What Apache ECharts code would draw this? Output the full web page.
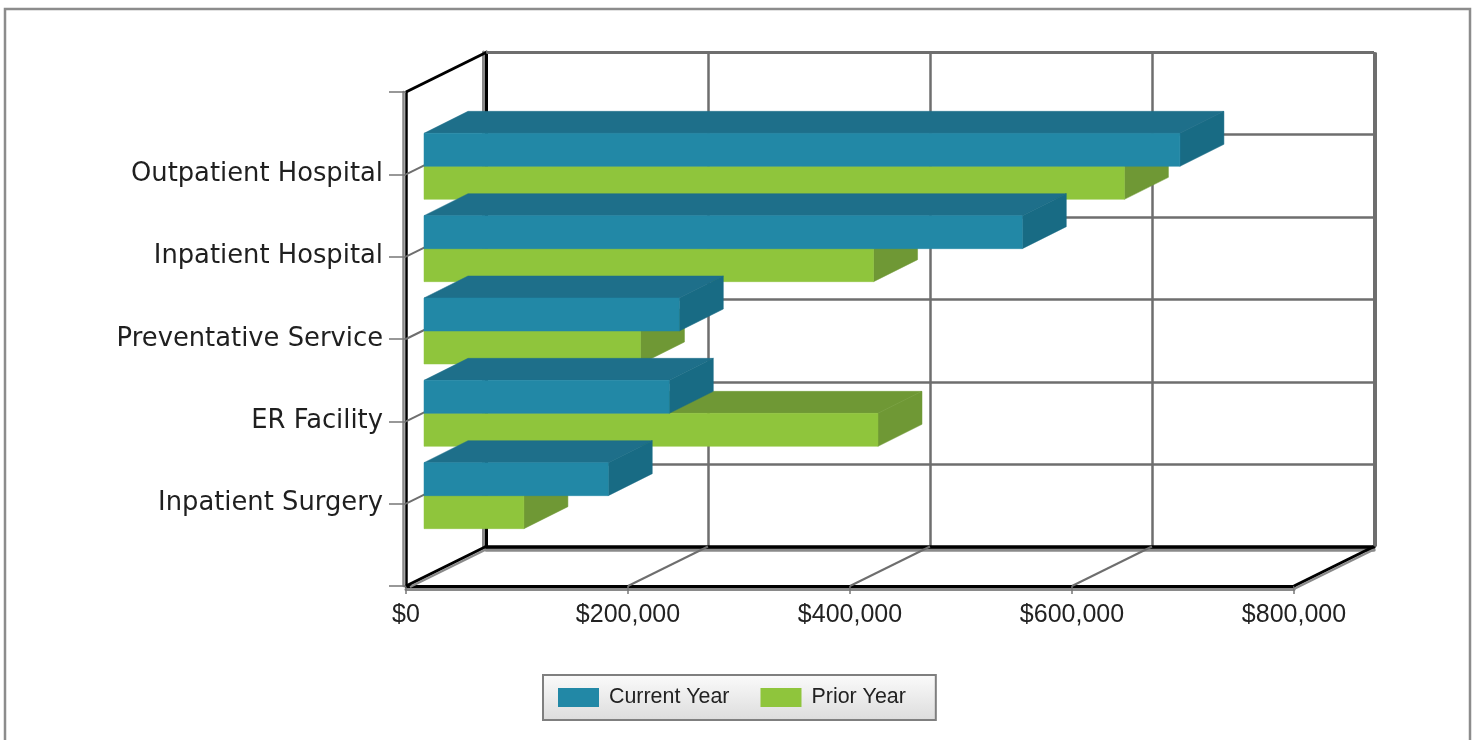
<!DOCTYPE html>
<html>
<head>
<meta charset="utf-8">
<style>html,body{margin:0;padding:0;background:#fff}#c{width:1476px;height:740px}</style>
<script src="https://cdn.jsdelivr.net/npm/echarts@6/dist/echarts.min.js"></script>
</head>
<body>
<div id="c"></div>
<script>
var categories = ['Outpatient Hospital', 'Inpatient Hospital', 'Preventative Service', 'ER Facility', 'Inpatient Surgery'];
var currentYear = [681000, 539000, 230000, 221000, 166000];
var priorYear = [631000, 405000, 195000, 409000, 90000];
var xTicks = [0, 200000, 400000, 600000, 800000];

var axisCats = [''].concat(categories, [' ']);
var WALL_DX = 80, WALL_DY = -39.5;     // depth of the chart box
var BAR_DX = 18, BAR_DY = -8;          // front plane of the bars within the box
var BAR_DEPTH_X = 44, BAR_DEPTH_Y = -22, BAR_H = 33;

function poly(points, fill) {
  return { type: 'polygon', shape: { points: points }, style: { fill: fill, stroke: fill, lineWidth: 0.5 } };
}
function barRender(slot, faceColor, topColor, sideColor) {
  return function (params, api) {
    var end = api.coord([api.value(0), api.value(1)]);
    var start = api.coord([0, api.value(1)]);
    var x0 = start[0] + BAR_DX, x1 = end[0] + BAR_DX;
    var y0 = end[1] + BAR_DY + (slot - 1) * BAR_H;
    var y1 = y0 + BAR_H;
    var dx = BAR_DEPTH_X, dy = BAR_DEPTH_Y;
    return {
      type: 'group',
      children: [
        poly([[x0, y0], [x1, y0], [x1 + dx, y0 + dy], [x0 + dx, y0 + dy]], topColor),
        poly([[x1, y0], [x1 + dx, y0 + dy], [x1 + dx, y1 + dy], [x1, y1]], sideColor),
        poly([[x0, y0], [x1, y0], [x1, y1], [x0, y1]], faceColor)
      ]
    };
  };
}
function seg(a, b, color, width) {
  return { type: 'line', shape: { x1: a[0], y1: a[1], x2: b[0], y2: b[1] }, style: { stroke: color, lineWidth: width } };
}
function back(p) { return [p[0] + WALL_DX, p[1] + WALL_DY]; }

function frameRender(params, api) {
  if (params.dataIndex !== 0) { return; }
  var kids = [];
  var last = axisCats.length - 1, xMax = xTicks[xTicks.length - 1];
  xTicks.forEach(function (t, i) {
    var p = api.coord([t, last]);
    if (i > 0 && i < xTicks.length - 1) { kids.push(seg(p, back(p), '#6e6e6e', 2)); }
  });
  axisCats.forEach(function (c, i) {
    var p = api.coord([0, i]);
    if (i > 0 && i < last) { kids.push(seg(p, back(p), '#6e6e6e', 2)); }
  });
  var tl = api.coord([0, 0]), bl = api.coord([0, last]), br = api.coord([xMax, last]), tr = api.coord([xMax, 0]);
  kids.push(seg([back(tr)[0] + 1, back(tr)[1]], [back(br)[0] + 1, back(br)[1]], '#6e6e6e', 4));
  kids.push(seg(back(tl), back(tr), '#6e6e6e', 3));
  kids.push(seg([br[0], br[1] + 3], [back(br)[0], back(br)[1] + 3], '#8a8a8a', 2));
  kids.push(seg([bl[0] + 4, bl[1] + 1], [back(bl)[0], back(bl)[1] + 3], '#8a8a8a', 2));
  kids.push(seg(tl, back(tl), '#000', 3));
  kids.push(seg(bl, back(bl), '#000', 3));
  kids.push(seg(br, back(br), '#000', 3));
  return { type: 'group', children: kids };
}

var money = function (v) { return '$' + String(v).replace(/\B(?=(\d{3})+$)/g, ','); };
var labelFont = 'DejaVu Sans';

var chart = echarts.init(document.getElementById('c'));
chart.setOption({
  animation: false,
  backgroundColor: '#fff',
  graphic: [{
    type: 'rect', silent: true, z: -1,
    shape: { x: 5, y: 9, width: 1465, height: 780 },
    style: { fill: '#fff', stroke: '#8c8c8c', lineWidth: 2.5 }
  }],
  legend: {
    left: 543, top: 675,
    data: ['Current Year', 'Prior Year'],
    icon: 'rect',
    itemWidth: 41, itemHeight: 19, itemGap: 31,
    padding: [12, 30, 12, 15],
    borderColor: '#7f7f7f', borderWidth: 2,
    backgroundColor: new echarts.graphic.LinearGradient(0, 0, 0, 1, [
      { offset: 0, color: '#fbfbfb' }, { offset: 1, color: '#dcdcdc' }
    ]),
    textStyle: { fontFamily: 'Liberation Sans', fontSize: 21.4, color: '#222', padding: [2, 0, 0, 5] }
  },
  grid: [
    { left: 406, top: 92, width: 888, height: 494 },
    { left: 486, top: 52, width: 888, height: 495 }
  ],
  xAxis: [{
    type: 'value', gridIndex: 0, min: 0, max: 800000, interval: 200000,
    axisLine: { show: true, lineStyle: { color: '#000', width: 3, shadowColor: '#8a8a8a', shadowOffsetY: 3 } },
    axisTick: { show: true, length: 8, lineStyle: { color: '#777', width: 1.5 } },
    axisLabel: { show: true, margin: 17, formatter: money, fontFamily: 'Liberation Sans', fontSize: 25, color: '#222', hideOverlap: false },
    splitLine: { show: false }
  }, {
    type: 'value', gridIndex: 1, min: 0, max: 800000, interval: 200000,
    axisLine: { show: true, lineStyle: { color: '#000', width: 3.5, shadowColor: '#8a8a8a', shadowOffsetY: 3 } },
    axisTick: { show: false }, axisLabel: { show: false },
    splitLine: { show: true, lineStyle: { color: '#6e6e6e', width: 2.5 } }
  }],
  yAxis: [{
    type: 'category', gridIndex: 0, data: axisCats, inverse: true, boundaryGap: false,
    axisLine: { show: true, lineStyle: { color: '#000', width: 2.5, shadowColor: '#8a8a8a', shadowOffsetX: -3 } },
    axisTick: { show: true, length: 17, alignWithLabel: true, lineStyle: { color: '#777', width: 1.5 } },
    axisLabel: { show: true, interval: 0, margin: 23, fontFamily: labelFont, fontSize: 25.8, color: '#1f1f1f', padding: [2, 0, 0, 0] },
    splitLine: { show: false }
  }, {
    type: 'category', gridIndex: 1, data: axisCats, inverse: true, boundaryGap: false,
    axisLine: { show: true, lineStyle: { color: '#000', width: 3, shadowColor: '#8a8a8a', shadowOffsetX: -3 } },
    axisTick: { show: false }, axisLabel: { show: false },
    splitLine: { show: true, interval: 0, lineStyle: { color: '#6e6e6e', width: 2.5 } }
  }],
  series: [{
    type: 'custom', name: 'frame', xAxisIndex: 0, yAxisIndex: 0, z: 2, silent: true, clip: false,
    legendHoverLink: false,
    renderItem: frameRender,
    encode: { x: 0, y: 1 },
    data: [[0, 0]]
  }, {
    type: 'custom', name: 'Prior Year', xAxisIndex: 0, yAxisIndex: 0, z: 3, clip: false,
    itemStyle: { color: '#8fc53c' },
    renderItem: barRender(1, '#8fc53c', '#6f9835', '#6f9835'),
    encode: { x: 0, y: 1 },
    data: priorYear.map(function (v, i) { return [v, i + 1]; })
  }, {
    type: 'custom', name: 'Current Year', xAxisIndex: 0, yAxisIndex: 0, z: 4, clip: false,
    itemStyle: { color: '#2288a6' },
    renderItem: barRender(0, '#2288a6', '#1e6f8a', '#186b84'),
    encode: { x: 0, y: 1 },
    data: currentYear.map(function (v, i) { return [v, i + 1]; })
  }]
});
</script>
</body>
</html>
